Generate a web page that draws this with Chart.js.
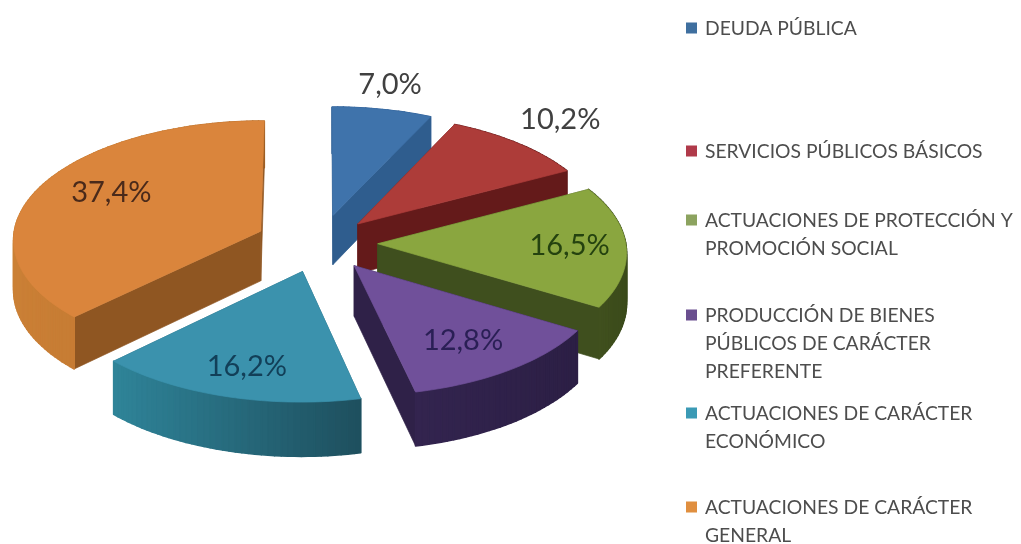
<!DOCTYPE html>
<html lang="es">
<head>
<meta charset="utf-8">
<title>Distribución del gasto</title>
<script src="https://cdn.jsdelivr.net/npm/chart.js@4"></script>
<style>
html,body{margin:0;padding:0;background:#fff;overflow:hidden}
#wrap{width:1021px;height:544px}
canvas{display:block;filter:blur(0.6px)}
</style>
</head>
<body>
<div id="wrap"><canvas id="c" width="1021" height="544"></canvas></div>
<script>
const categories = ["DEUDA PÚBLICA","SERVICIOS PÚBLICOS BÁSICOS","ACTUACIONES DE PROTECCIÓN Y PROMOCIÓN SOCIAL","PRODUCCIÓN DE BIENES PÚBLICOS DE CARÁCTER PREFERENTE","ACTUACIONES DE CARÁCTER ECONÓMICO","ACTUACIONES DE CARÁCTER GENERAL"];
const legendLines = [["DEUDA PÚBLICA"],["SERVICIOS PÚBLICOS BÁSICOS"],["ACTUACIONES DE PROTECCIÓN Y","PROMOCIÓN SOCIAL"],["PRODUCCIÓN DE BIENES","PÚBLICOS DE CARÁCTER","PREFERENTE"],["ACTUACIONES DE CARÁCTER","ECONÓMICO"],["ACTUACIONES DE CARÁCTER","GENERAL"]];
const values = [7.0,10.2,16.5,12.8,16.2,37.4];
const valueLabels = ["7,0%","10,2%","16,5%","12,8%","16,2%","37,4%"];

const topColors   = ["#3f73ab","#ad3c39","#8aa63f","#70509a","#3b92ad","#da853c"];
const cutColors   = ["#2f5d8e","#641a1a","#3f4f1e","#2f2148","#1f6478","#8f5622"];
const rimLeft     = ["#33639a","#6b1c1c","#435320","#33244f","#2f8499","#cb8036"];
const rimRight    = ["#33639a","#5c1616","#3a4a1a","#2c1f45","#1e4f5e","#b8702c"];
const labelColors = ["#404040","#404040","#24420f","#2a1f55","#123f58","#4a2a1a"];
const legendColors= ["#3f6f9f","#b03a4a","#8ca35f","#6a4f8f","#3b9ab5","#e08f3f"];
const sliceOffsets= [52,48,50,50,53,56];
const drawOrder   = [0,1,5,2,4,3];
const labelNudge  = [[22,-55],[89,-47],[18,0],[1,3],[-3,9],[6,-7]];
const legendTop   = [29,152,221,316,414,508];

const camera = {sx:1.1535, sy:0.5516, p:0.0633, depth:50};
const legendBox = {x:686, size:11, textX:705, lineH:28, font:'19.3px Lato', color:'#4d4d4d'};

function project(el,u,v){
  const w = 1 - camera.p*v, R = el.outerRadius;
  return {x: el.x + camera.sx*R*u/w, y: el.y + camera.sy*R*v/w, k: 1/w};
}
function discPoint(el,a,rad){
  const mid=(el.startAngle+el.endAngle)/2, d=el.options.offset/el.outerRadius;
  return [Math.cos(mid)*d+Math.cos(a)*rad, Math.sin(mid)*d+Math.sin(a)*rad];
}
function mix(a,b,t){
  const p=s=>[1,3,5].map(i=>parseInt(s.substr(i,2),16));
  const A=p(a),B=p(b);
  return 'rgb('+A.map((c,i)=>Math.round(c+(B[i]-c)*t)).join(',')+')';
}
function quad(ctx,pts,color,lw){
  ctx.beginPath();
  pts.forEach((q,i)=>i?ctx.lineTo(q.x,q.y):ctx.moveTo(q.x,q.y));
  ctx.closePath();
  ctx.fillStyle=color;ctx.strokeStyle=color;ctx.lineWidth=lw;ctx.lineJoin='round';ctx.fill();ctx.stroke();
}
function drop(q){return {x:q.x,y:q.y+camera.depth*q.k};}

const pie3d = {
  id:'pie3d',
  beforeDatasetsDraw(chart){
    const ctx=chart.ctx, arcs=chart.getDatasetMeta(0).data;
    ctx.save();
    drawOrder.forEach(i=>{
      const el=arcs[i];
      const steps=Math.max(6,Math.round((el.endAngle-el.startAngle)*40));
      const apexUV=discPoint(el,0,0), apex=project(el,apexUV[0],apexUV[1]);
      const rim=[];
      for(let s=0;s<=steps;s++){
        const a=el.startAngle+(el.endAngle-el.startAngle)*s/steps;
        const uv=discPoint(el,a,1);
        rim.push(project(el,uv[0],uv[1]));
      }
      const walls=[];
      walls.push({y:(apex.y+rim[0].y)/2,pts:[apex,rim[0],drop(rim[0]),drop(apex)],color:cutColors[i],lw:0.7});
      walls.push({y:(apex.y+rim[steps].y)/2,pts:[apex,rim[steps],drop(rim[steps]),drop(apex)],color:cutColors[i],lw:0.7});
      const xs=rim.map(q=>q.x), x0=Math.min(...xs), x1=Math.max(...xs);
      for(let s=0;s<steps;s++){
        const m=(rim[s].x+rim[s+1].x)/2;
        walls.push({y:(rim[s].y+rim[s+1].y)/2,pts:[rim[s],rim[s+1],drop(rim[s+1]),drop(rim[s])],color:mix(rimLeft[i],rimRight[i],(m-x0)/(x1-x0)),lw:1.6});
      }
      walls.sort((a,b)=>a.y-b.y).forEach(w=>quad(ctx,w.pts,w.color,w.lw));
      quad(ctx,[apex].concat(rim),topColors[i],0.7);
    });
    ctx.restore();
    return false;
  },
  afterDraw(chart){
    const ctx=chart.ctx, arcs=chart.getDatasetMeta(0).data;
    ctx.save();
    ctx.textAlign='center';ctx.textBaseline='middle';ctx.font='29px Lato';
    arcs.forEach((el,i)=>{
      const mid=(el.startAngle+el.endAngle)/2;
      const uv=discPoint(el,mid,0.7), q=project(el,uv[0],uv[1]);
      ctx.fillStyle=labelColors[i];
      ctx.fillText(valueLabels[i],q.x+labelNudge[i][0],q.y+labelNudge[i][1]);
    });
    ctx.textAlign='left';ctx.font=legendBox.font;
    legendLines.forEach((lines,i)=>{
      ctx.fillStyle=legendColors[i];
      ctx.fillRect(legendBox.x,legendTop[i]-1-legendBox.size/2,legendBox.size,legendBox.size);
      ctx.fillStyle=legendBox.color;
      lines.forEach((t,j)=>ctx.fillText(t,legendBox.textX,legendTop[i]+j*legendBox.lineH));
    });
    ctx.restore();
  }
};

new Chart(document.getElementById('c'),{
  type:'pie',
  data:{labels:categories,datasets:[{data:values,backgroundColor:topColors,offset:sliceOffsets,borderWidth:0}]},
  options:{
    responsive:false,animation:false,
    layout:{padding:{right:381,bottom:58}},
    plugins:{legend:{display:false},tooltip:{enabled:false}}
  },
  plugins:[pie3d]
});
</script>
</body>
</html>
